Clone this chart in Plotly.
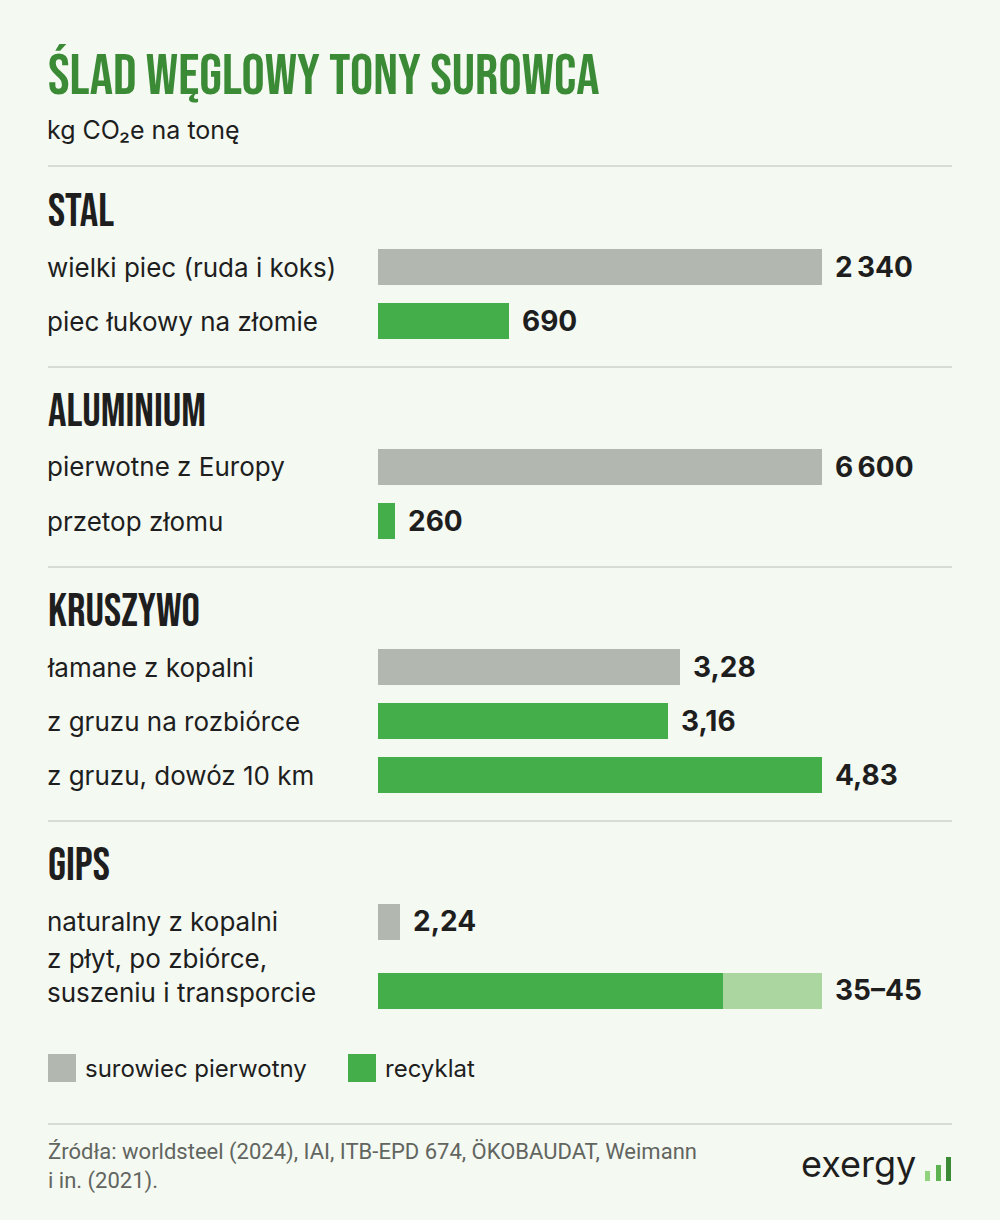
import plotly.graph_objects as go

# ---------------- data ----------------
title = "ŚLAD WĘGLOWY TONY SUROWCA"
subtitle = "kg CO₂e na tonę"
section_names = ["STAL", "ALUMINIUM", "KRUSZYWO", "GIPS"]

stal_labels = ["wielki piec (ruda i koks)", "piec łukowy na złomie"]
stal_low = [2340, 690]
stal_high = [2340, 690]
stal_kind = ["pierwotny", "recyklat"]

alu_labels = ["pierwotne z Europy", "przetop złomu"]
alu_low = [6600, 260]
alu_high = [6600, 260]
alu_kind = ["pierwotny", "recyklat"]

krus_labels = ["łamane z kopalni", "z gruzu na rozbiórce", "z gruzu, dowóz 10 km"]
krus_low = [3.28, 3.16, 4.83]
krus_high = [3.28, 3.16, 4.83]
krus_kind = ["pierwotny", "recyklat", "recyklat"]

gips_labels = ["naturalny z kopalni", "z płyt, po zbiórce,<br>suszeniu i transporcie"]
gips_low = [2.24, 35]
gips_high = [2.24, 45]
gips_kind = ["pierwotny", "recyklat"]

legend_labels = ["surowiec pierwotny", "recyklat"]
source_text = "Źródła: worldsteel (2024), IAI, ITB-EPD 674, ÖKOBAUDAT, Weimann<br>i in. (2021)."
brand = "exergy"

# ---------------- style ----------------
W, H = 1000, 1220
BG = "#f4f9f2"
GRAY = "#b2b7af"
GREEN = "#44af4a"
LIGHTGREEN = "#acd6a0"
TITLE_GREEN = "#3b8a36"
TXT = "#1e1e1e"
SEP = "#d7ddd4"
COND = "Bebas Neue, Oswald, 'Liberation Sans Narrow', 'DejaVu Sans Condensed', 'Roboto Condensed', sans-serif"
BODY = "Inter, Roboto, sans-serif"
kind_color = {"pierwotny": GRAY, "recyklat": GREEN}
LX = 0.045

def py(p):
    return 1 - p / H

def fmt(v):
    if float(v).is_integer():
        s = f"{int(v):,}".replace(",", "\u2009")
    else:
        s = f"{v:.2f}".replace(".", ",")
    return s

sections = [
    (stal_labels, stal_low, stal_high, stal_kind),
    (alu_labels, alu_low, alu_high, alu_kind),
    (krus_labels, krus_low, krus_high, krus_kind),
    (gips_labels, gips_low, gips_high, gips_kind),
]
# pixel geometry of each section's plotting band: (first row centre, row pitch)
geom = [(267, 54), (467, 54), (667, 54), (921, 69)]
header_y = [212, 412, 612, 866]
sep_y = [166, 367, 567, 821, 1124]
BAR_PX = 36
X0, X1 = 378, 822

fig = go.Figure()
annotations = []
shapes = []

for i, ((labels, low, high, kind), (c0, pitch)) in enumerate(zip(sections, geom), start=1):
    xa = f"x{i}" if i > 1 else "x"
    ya = f"y{i}" if i > 1 else "y"
    n = len(labels)
    top = c0 - pitch / 2
    bottom = c0 + pitch * (n - 1) + pitch / 2
    w = BAR_PX / pitch
    fig.add_trace(go.Bar(
        x=low, y=labels, orientation="h", xaxis=xa, yaxis=ya,
        marker=dict(color=[kind_color[k] for k in kind], line=dict(width=0)),
        width=w, showlegend=False, hoverinfo="skip",
    ))
    ext = [h - l for l, h in zip(low, high)]
    if any(e > 0 for e in ext):
        fig.add_trace(go.Bar(
            x=ext, y=labels, orientation="h", xaxis=xa, yaxis=ya,
            marker=dict(color=LIGHTGREEN, line=dict(width=0)),
            width=w, showlegend=False, hoverinfo="skip",
        ))
    xmax = max(high)
    lay_x = "xaxis" if i == 1 else f"xaxis{i}"
    lay_y = "yaxis" if i == 1 else f"yaxis{i}"
    fig.update_layout(**{
        lay_x: dict(domain=[X0 / W, X1 / W], range=[0, xmax], visible=False,
                    anchor=ya, fixedrange=True),
        lay_y: dict(domain=[py(bottom), py(top)], type="category",
                    categoryarray=labels, range=[n - 0.5, -0.5], visible=False,
                    anchor=xa, fixedrange=True),
    })
    for lab, l, h in zip(labels, low, high):
        annotations.append(dict(
            x=LX, xref="paper", y=lab, yref=ya, xanchor="left", yanchor="middle",
            text=lab, showarrow=False, align="left",
            yshift=15 if "<br>" in lab else 0,
            font=dict(family=BODY, size=26, color=TXT),
        ))
        vt = fmt(l) if l == h else f"{fmt(l)}–{fmt(h)}"
        annotations.append(dict(
            x=h, xref=xa, y=lab, yref=ya, xanchor="left", yanchor="middle",
            text=f"<b>{vt}</b>", showarrow=False, xshift=11,
            font=dict(family=BODY, size=28, color=TXT),
        ))
    annotations.append(dict(
        x=0.046, xref="paper", y=py(header_y[i - 1]), yref="paper",
        xanchor="left", yanchor="middle", text=section_names[i - 1], showarrow=False,
        font=dict(family=COND, size=46, color=TXT),
    ))

# title & subtitle
annotations.append(dict(x=0.046, xref="paper", y=py(77), yref="paper", xanchor="left",
                        yanchor="middle", text=title, showarrow=False,
                        font=dict(family=COND, size=58, color=TITLE_GREEN)))
annotations.append(dict(x=LX, xref="paper", y=py(130), yref="paper", xanchor="left",
                        yanchor="middle", text=subtitle, showarrow=False,
                        font=dict(family=BODY, size=25, color=TXT)))

# separators
for s in sep_y:
    shapes.append(dict(type="line", xref="paper", yref="paper", x0=48 / W, x1=952 / W,
                       y0=py(s), y1=py(s), line=dict(color=SEP, width=2)))

# legend
for (lx, col), lab in zip([(48, GRAY), (348, GREEN)], legend_labels):
    shapes.append(dict(type="rect", xref="paper", yref="paper", x0=lx / W, x1=(lx + 28) / W,
                       y0=py(1082), y1=py(1054), fillcolor=col, line=dict(width=0)))
    annotations.append(dict(x=(lx + 35) / W, xref="paper", y=py(1068), yref="paper",
                            xanchor="left", yanchor="middle", text=lab, showarrow=False,
                            font=dict(family=BODY, size=24, color=TXT)))

# source
annotations.append(dict(x=0.046, xref="paper", y=py(1166), yref="paper", xanchor="left",
                        yanchor="middle", text=source_text, showarrow=False, align="left",
                        font=dict(family="Roboto, sans-serif", size=22, color="#62655f")))

# brand
annotations.append(dict(x=918 / W, xref="paper", y=py(1164), yref="paper", xanchor="right",
                        yanchor="middle", text=brand, showarrow=False,
                        font=dict(family=BODY, size=36, color=TXT)))
for bx, btop, bc in [(925, 1171, "#8fd37c"), (936, 1165, "#5cb34f"), (946, 1157, "#3b8a36")]:
    shapes.append(dict(type="rect", xref="paper", yref="paper", x0=bx / W, x1=(bx + 5) / W,
                       y0=py(1181), y1=py(btop), fillcolor=bc, line=dict(width=0)))

fig.update_layout(
    width=W, height=H, margin=dict(l=0, r=0, t=0, b=0),
    paper_bgcolor=BG, plot_bgcolor=BG, barmode="stack", bargap=0,
    annotations=annotations, shapes=shapes, showlegend=False,
)

fig.write_html(
    "out.html",
    config={"displayModeBar": False},
    post_script=f"document.body.style.margin='0';document.body.style.background='{BG}';",
)
